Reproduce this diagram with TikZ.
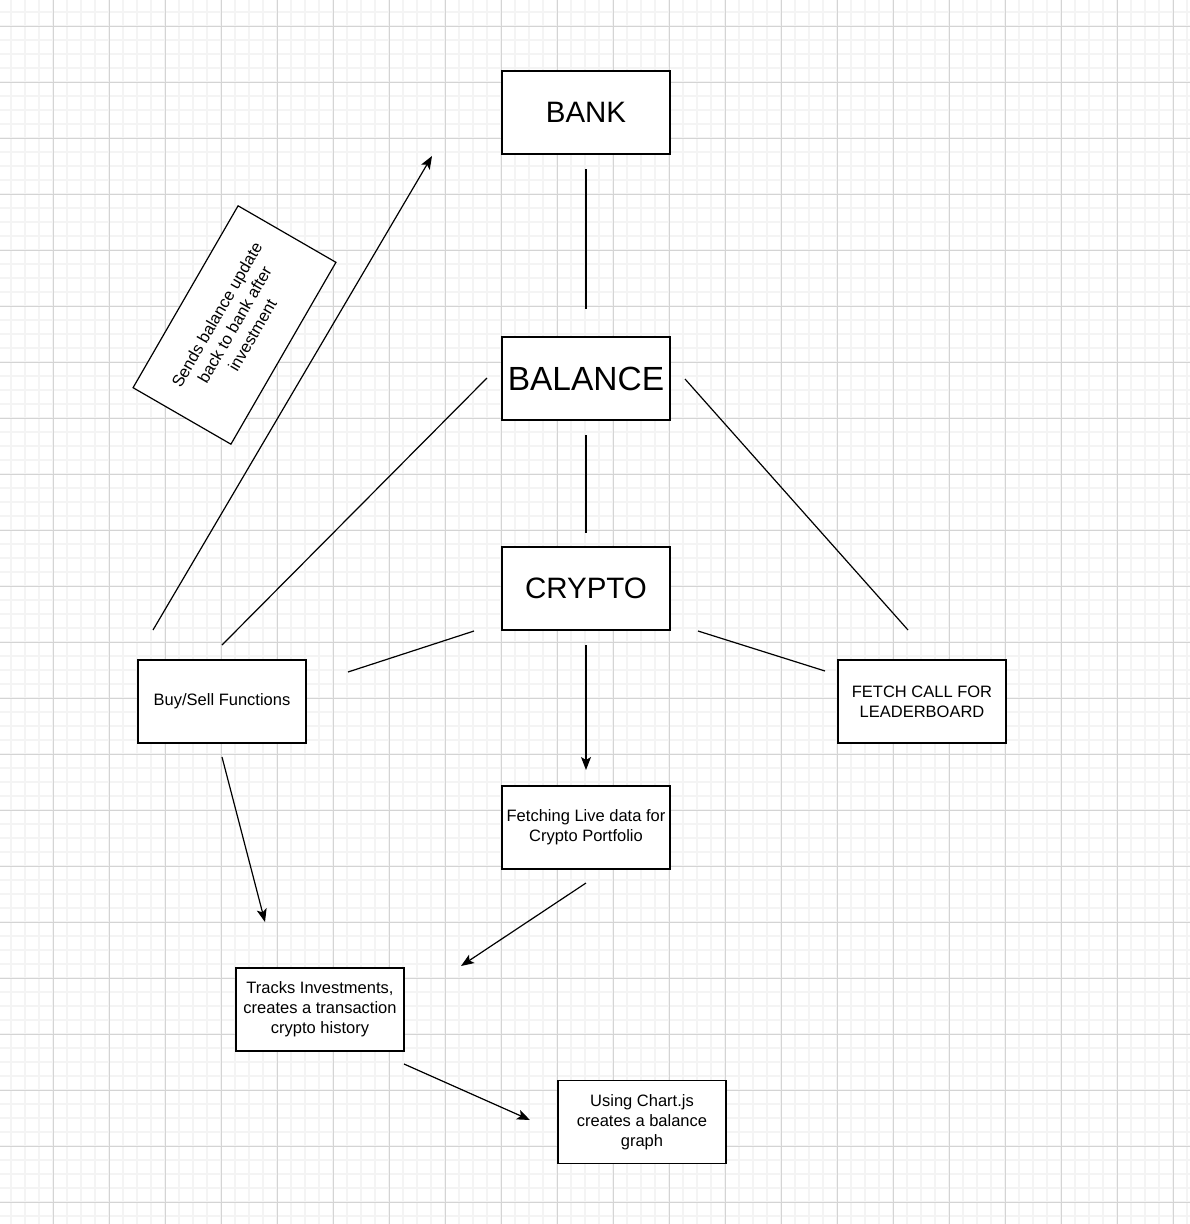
\documentclass[tikz,border=0pt]{standalone}
\usepackage{fontspec}
\setmainfont{Liberation Sans}
\usetikzlibrary{arrows.meta}
\tikzset{
  box/.style={draw=black, line width=1.2pt, fill=white, minimum width=168pt, minimum height=83pt, inner sep=0pt, align=center, font=\fontsize{16.5}{20}\selectfont},
  bigtext/.style={font=\fontsize{29.5}{34}\selectfont},
  hugetext/.style={font=\fontsize{33.5}{38}\selectfont},
  rotbox/.style={draw=black, line width=1.2pt, fill=white, minimum width=210pt, minimum height=113pt, inner sep=0pt, align=center, font=\fontsize{16.5}{20.5}\selectfont, rotate=60},
  link/.style={draw=black, line width=1.2pt},
  arr/.style={link, -{Stealth[length=13pt,width=10pt,inset=3pt]}},
  minorgrid/.style={draw={rgb,255:red,244;green,244;blue,244}, line width=1.5pt},
  majorgrid/.style={draw={rgb,255:red,212;green,212;blue,212}, line width=1pt}
}
\begin{document}
\begin{tikzpicture}[x=1pt,y=-1pt]
\useasboundingbox (0,0) rectangle (1190,1224);
\fill[white] (0,0) rectangle (1190,1224);
\foreach \x in {11,25,...,1190} \draw[minorgrid] (\x,0) -- (\x,1224);
\foreach \y in {12,26,...,1224} \draw[minorgrid] (0,\y) -- (1190,\y);
\foreach \x in {53,109,...,1190} \draw[majorgrid] (\x,0) -- (\x,1224);
\foreach \y in {26,82,...,1224} \draw[majorgrid] (0,\y) -- (1190,\y);

\node[box, bigtext] (bank) at (586,112.5) {BANK};
\node[box, hugetext] (balance) at (586,378.5) {BALANCE};
\node[box, bigtext] (crypto) at (586,588.5) {CRYPTO};
\node[box] (buysell) at (222,701.5) {Buy/Sell Functions};
\node[box] (fetch) at (922,701.5) {FETCH CALL FOR\\LEADERBOARD};
\node[box] (live) at (586,827.5) {Fetching Live data for\\Crypto Portfolio};
\node[box] (tracks) at (320,1009.5) {Tracks Investments,\\creates a transaction\\crypto history};
\node[box] (chart) at (642,1122) {Using Chart.js\\creates a balance\\graph};
\node[rotbox] (sends) at (234.5,325) {Sends balance update\\back to bank after\\investment};

\coordinate (bankS) at (586,169);
\coordinate (balN) at (586,309);
\coordinate (balS) at (586,435);
\coordinate (crN) at (586,533);
\coordinate (balL) at (487,378);
\coordinate (bsTop) at (222,645);
\coordinate (balR) at (685,379);
\coordinate (feTop) at (908,630);
\coordinate (bsUp) at (153,630);
\coordinate (bankArr) at (432,156);
\coordinate (crL) at (474,631);
\coordinate (bsR) at (348,672);
\coordinate (crR) at (698,631);
\coordinate (feL) at (825,671);
\coordinate (crS) at (586,645);
\coordinate (liveN) at (586,770);
\coordinate (bsS) at (222,757);
\coordinate (trN) at (265,922);
\coordinate (liveS) at (586,883);
\coordinate (trNE) at (461,966);
\coordinate (trSE) at (404,1064);
\coordinate (chW) at (530,1120);

\draw[link] (bankS) -- (balN);
\draw[link] (balS) -- (crN);
\draw[link] (balL) -- (bsTop);
\draw[link] (balR) -- (feTop);
\draw[arr] (bsUp) -- (bankArr);
\draw[link] (crL) -- (bsR);
\draw[link] (crR) -- (feL);
\draw[arr] (crS) -- (liveN);
\draw[arr] (bsS) -- (trN);
\draw[arr] (liveS) -- (trNE);
\draw[arr] (trSE) -- (chW);
\end{tikzpicture}
\end{document}
